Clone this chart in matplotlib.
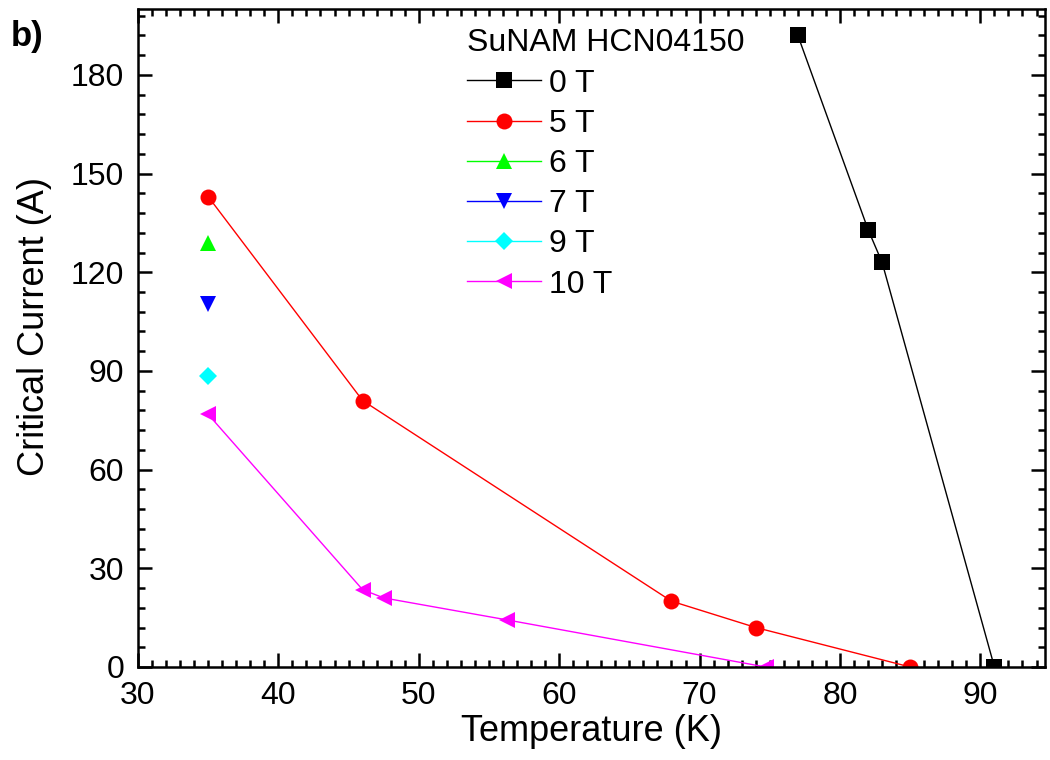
import matplotlib
matplotlib.use('Agg')
import matplotlib.pyplot as plt
from matplotlib.ticker import MultipleLocator

plt.rcParams['font.family'] = ['Liberation Sans', 'DejaVu Sans']

# Data
t_0T = [77, 82, 83, 91]
ic_0T = [192, 133, 123, 0]
t_5T = [35, 46, 68, 74, 85]
ic_5T = [143, 81, 20, 12, 0]
t_6T = [35]
ic_6T = [129]
t_7T = [35]
ic_7T = [110.5]
t_9T = [35]
ic_9T = [88.5]
t_10T = [35, 46, 47.5, 56.3, 74.7]
ic_10T = [76.8, 23.5, 21, 14.3, 0]

series = [
    (t_0T, ic_0T, '0 T', 'black', 's'),
    (t_5T, ic_5T, '5 T', 'red', 'o'),
    (t_6T, ic_6T, '6 T', '#00ff00', '^'),
    (t_7T, ic_7T, '7 T', '#0000ff', 'v'),
    (t_9T, ic_9T, '9 T', '#00ffff', 'D'),
    (t_10T, ic_10T, '10 T', '#ff00ff', '<'),
]
msizes = {'s': 11, 'o': 11.5, '^': 11.5, 'v': 11.5, 'D': 9, '<': 11.5}

fig = plt.figure(figsize=(10.5, 7.6), dpi=100)
ax = fig.add_axes([0.1314, 0.1224, 0.8638, 0.8656])

for x, y, lab, col, mk in series:
    ax.plot(x, y, color=col, marker=mk, markersize=msizes[mk], linewidth=1,
            markeredgewidth=0, label=lab)

ax.set_xlim(30, 94.6)
ax.set_ylim(0, 200)
ax.xaxis.set_major_locator(MultipleLocator(10))
ax.xaxis.set_minor_locator(MultipleLocator(1))
ax.yaxis.set_major_locator(MultipleLocator(30))
ax.yaxis.set_minor_locator(MultipleLocator(6))
ax.tick_params(which='both', direction='in', top=True, right=True, width=1.8,
               labelsize=23, pad=10)
ax.tick_params(which='major', length=10)
ax.tick_params(which='minor', length=5)
for sp in ax.spines.values():
    sp.set_linewidth(1.8)

ax.set_xlabel('Temperature (K)', fontsize=26, labelpad=2)
ax.set_ylabel('Critical Current (A)', fontsize=26, labelpad=15)
ax.yaxis.set_label_coords(-0.095, 0.517)

leg = ax.legend(title='SuNAM HCN04150', loc='upper left',
                bbox_to_anchor=(0.342, 1.0), frameon=False, fontsize=23,
                title_fontsize=23, handlelength=2.3, handletextpad=0.25,
                labelspacing=0.32, borderaxespad=0.2)
leg._legend_box.align = 'left'

fig.text(0.01, 0.952, 'b)', fontsize=25, fontweight='bold', va='center')

fig.savefig('out.png', dpi=100)
